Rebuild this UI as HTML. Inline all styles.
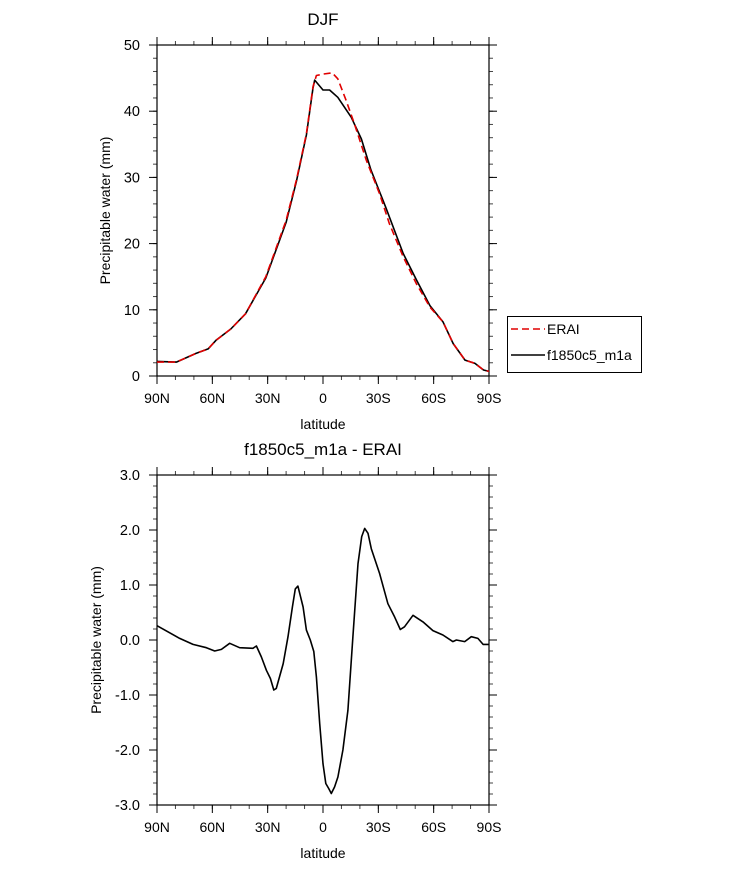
<!DOCTYPE html>
<html><head><meta charset="utf-8"><style>
body{margin:0;background:#fff;}
svg{display:block;font-family:"Liberation Sans",sans-serif;}
</style></head><body>
<svg id="chart" width="733" height="869" xmlns="http://www.w3.org/2000/svg"></svg>
<script>
// ---- data ----
const eraiLat = [90,79.5,69,62.3,58,50,42,31,20,14.4,9,5.4,3.6,0,-5,-8,-12.6,-17,-23.5,-30.7,-36,-43.5,-50.7,-58,-65,-70.6,-77,-82.4,-87,-90];
const eraiVal = [2.1,2.1,3.4,4.1,5.4,7.1,9.4,15,23.5,29.6,36.6,43.7,45.4,45.6,45.8,44.9,41.6,38.1,32.6,27.5,23,18,13.9,10.4,8.2,4.9,2.4,1.9,0.9,0.7];
const modelLat = [90,79.5,69,62.3,58,50,42,31,20,14.4,9,5.4,4.5,0,-3.6,-8,-15.3,-20.8,-26,-34,-43.5,-50.7,-58,-65,-70.6,-77,-82.4,-87,-90];
const modelVal = [2.2,2.1,3.4,4.1,5.4,7.1,9.4,14.8,23.2,29.4,36.4,43.5,44.7,43.2,43.2,42.1,39.1,35.8,31.1,25.5,18.5,14.5,10.6,8.2,4.9,2.4,1.9,0.9,0.7];
const diffLat = [90,77.7,70.5,63.2,58.7,55.1,50.6,45.2,38,36.1,33.4,30.7,28.5,26.7,25.3,21.6,19,16.6,15,13.6,10.8,9,6.9,5,3.6,1.8,0,-1.5,-3.1,-4.5,-6.3,-8.1,-10.8,-13.5,-16.2,-19,-21,-22.6,-24.4,-26.2,-30.7,-35.2,-38.8,-41.9,-44.2,-48.8,-54.2,-59.6,-65,-70.4,-72.3,-76.8,-80.4,-84,-86.8,-90];
const diffVal = [0.26,0.03,-0.08,-0.14,-0.2,-0.17,-0.06,-0.14,-0.15,-0.11,-0.31,-0.55,-0.7,-0.91,-0.88,-0.43,0.06,0.6,0.93,0.98,0.6,0.18,0,-0.21,-0.67,-1.52,-2.25,-2.61,-2.7,-2.79,-2.67,-2.49,-2,-1.28,0.06,1.39,1.88,2.03,1.94,1.66,1.21,0.66,0.42,0.19,0.24,0.45,0.33,0.17,0.09,-0.03,0,-0.03,0.06,0.03,-0.08,-0.08];
const xTickLat = [90,60,30,0,-30,-60,-90];
const xTickLabels = ["90N","60N","30N","0","30S","60S","90S"];
const topYTicks = [0,10,20,30,40,50];
const botYTicks = [-3,-2,-1,0,1,2,3];
const botYLabels = ["-3.0","-2.0","-1.0","0.0","1.0","2.0","3.0"];

const NS="http://www.w3.org/2000/svg";
const svg=document.getElementById('chart');
function mk(tag,attrs,parent){const e=document.createElementNS(NS,tag);for(const k in attrs)e.setAttribute(k,attrs[k]);(parent||svg).appendChild(e);return e;}
const L=157,R=489;
const xs=lat=>L+(90-lat)/180*(R-L);

function panel(name,top,bot,ymin,ymax,yTicks,yLabels,minorStep,title,ytitleX){
  const g=mk('g',{});
  
  
  const ys=v=>bot-(v-ymin)/(ymax-ymin)*(bot-top);
  for(let lat=90;lat>=-90;lat-=10){const x=xs(lat);
    mk('line',{x1:x,x2:x,y1:bot,y2:bot+4,stroke:'#444','stroke-width':1},g);
    mk('line',{x1:x,x2:x,y1:top,y2:top-4,stroke:'#444','stroke-width':1},g);}
  xTickLat.forEach((lat,i)=>{const x=xs(lat);
    mk('line',{x1:x,x2:x,y1:bot,y2:bot+8,stroke:'#000','stroke-width':1},g);
    mk('line',{x1:x,x2:x,y1:top,y2:top-8,stroke:'#000','stroke-width':1},g);
    const t=mk('text',{x:x,y:bot+27,'text-anchor':'middle','font-size':14},g);t.textContent=xTickLabels[i];
    });
  for(let v=ymin;v<=ymax+1e-9;v+=minorStep){const y=ys(v);
    mk('line',{x1:L,x2:L-4,y1:y,y2:y,stroke:'#444','stroke-width':1},g);
    mk('line',{x1:R,x2:R+4,y1:y,y2:y,stroke:'#444','stroke-width':1},g);}
  yTicks.forEach((v,i)=>{const y=ys(v);
    mk('line',{x1:L,x2:L-8,y1:y,y2:y,stroke:'#000','stroke-width':1},g);
    mk('line',{x1:R,x2:R+8,y1:y,y2:y,stroke:'#000','stroke-width':1},g);
    const t=mk('text',{x:L-17,y:y+5,'text-anchor':'end','font-size':14.5},g);t.textContent=yLabels[i];
    });
  mk('rect',{x:L,y:top,width:R-L,height:bot-top,fill:'none',stroke:'#000','stroke-width':1.2},g);
  const tt=mk('text',{x:(L+R)/2,y:top-20,'text-anchor':'middle','font-size':17},g);tt.textContent=title;
  
  const xt=mk('text',{x:(L+R)/2,y:bot+53,'text-anchor':'middle','font-size':14},g);xt.textContent='latitude';
  
  const yc=(top+bot)/2;
  const yt=mk('text',{x:ytitleX,y:yc,'text-anchor':'middle','font-size':14,transform:`rotate(-90 ${ytitleX} ${yc})`},g);yt.textContent='Precipitable water (mm)';
  
  return {g,ys};
}
function line(p,lat,val,color,dash,name){
  const d=lat.map((la,i)=>(i?'L':'M')+xs(la).toFixed(1)+','+p.ys(val[i]).toFixed(1)).join(' ');
  const e=mk('path',{d:d,fill:'none',stroke:color,'stroke-width':1.6,'stroke-dasharray':dash||'none','stroke-linejoin':'round'},p.g);
  
  
}
const p1=panel('top-panel',45,376,0,50,topYTicks,topYTicks.map(String),2,'DJF',110);
line(p1,modelLat,modelVal,'#000',null,'model-line');
line(p1,eraiLat,eraiVal,'#e00000','7,4','erai-line');
const p2=panel('bottom-panel',475,805,-3,3,botYTicks,botYLabels,0.2,'f1850c5_m1a - ERAI',101);
line(p2,diffLat,diffVal,'#000',null,'diff-line');
</script>
<svg style="position:absolute;left:0;top:0" width="733" height="869">
<rect x="507.5" y="316.5" width="134" height="56" fill="#fff" stroke="#000"/>
<line x1="511" x2="545" y1="329" y2="329" stroke="#e00000" stroke-width="1.6" stroke-dasharray="7,4"/>
<text x="547" y="334" font-size="14" font-family="Liberation Sans, sans-serif">ERAI</text>
<line x1="511" x2="545" y1="355" y2="355" stroke="#000" stroke-width="1.6"/>
<text x="547" y="360" font-size="14" font-family="Liberation Sans, sans-serif">f1850c5_m1a</text>
</svg>
</body></html>
